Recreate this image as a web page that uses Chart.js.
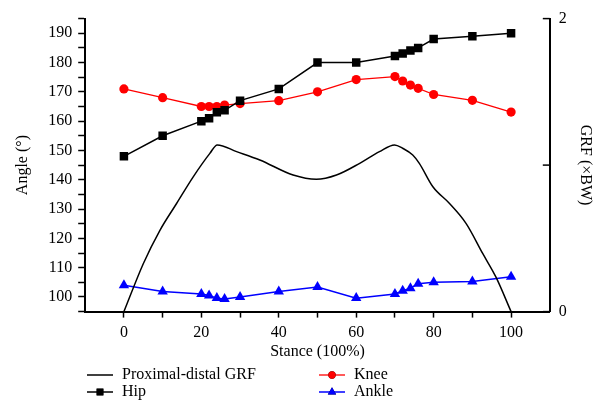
<!DOCTYPE html>
<html>
<head>
<meta charset="utf-8">
<script src="https://cdn.jsdelivr.net/npm/chart.js@4.4.1/dist/chart.umd.min.js"></script>
<style>
  html, body { margin: 0; padding: 0; background: #fff; }
  #wrap { width: 611px; height: 414px; }
</style>
</head>
<body>
<div id="wrap"><canvas id="gait-chart"></canvas></div>
<script>
// joint angles over stance (%)
var stance = [0, 10, 20, 22, 24, 26, 30, 40, 50, 60, 70, 72, 74, 76, 80, 90, 100];
var hip    = [148, 155, 160, 161, 163, 163.7, 167, 171, 180, 180, 182.2, 183.1, 184.1, 185, 188, 189, 190];
var knee   = [171, 168, 165, 165, 165, 165.5, 166, 167, 170, 174.2, 175.2, 173.7, 172.3, 171.2, 169.1, 167.1, 163.1];
var ankle  = [104, 101.9, 101, 100.5, 99.6, 99.3, 100, 101.9, 103.4, 99.6, 101, 102.1, 103, 104.5, 105, 105.3, 106.9];

// proximal-distal GRF (xBW)
var grfX = [0, 5, 9.3, 13.6, 17.9, 22.2, 24.1, 29.1, 35.1, 43.7, 49.7, 54.9, 60.9, 66, 69.9, 72, 74.6, 76.3, 79.8, 84.1, 88.4, 92.7, 96.1, 100];
var grfY = [0, 0.327, 0.555, 0.738, 0.92, 1.08, 1.138, 1.092, 1.035, 0.932, 0.903, 0.932, 1.012, 1.092, 1.138, 1.115, 1.069, 1.012, 0.852, 0.738, 0.601, 0.395, 0.235, 0];

var serif = "'Liberation Serif', 'DejaVu Serif', serif";

function pts(xs, ys) {
  return xs.map(function (x, i) { return { x: x, y: ys[i] }; });
}

// right axis ticks point inward, legend in two columns
var extras = {
  id: 'extras',
  afterDraw: function (chart) {
    var ctx = chart.ctx;
    var y1 = chart.scales.y1;
    ctx.save();
    ctx.strokeStyle = '#000';
    ctx.lineWidth = 1.5;
    [0, 1, 2].forEach(function (v) {
      var py = y1.getPixelForValue(v);
      ctx.beginPath();
      ctx.moveTo(y1.left, py);
      ctx.lineTo(y1.left - 7, py);
      ctx.stroke();
    });

    // legend
    var slots = [
      { ds: 0, x: 87, y: 375 },
      { ds: 1, x: 87, y: 392 },
      { ds: 2, x: 319, y: 375 },
      { ds: 3, x: 319, y: 392 }
    ];
    ctx.font = '16px ' + serif;
    ctx.textBaseline = 'middle';
    ctx.textAlign = 'left';
    slots.forEach(function (s) {
      var d = chart.data.datasets[s.ds];
      ctx.strokeStyle = d.borderColor;
      ctx.lineWidth = d.borderWidth;
      ctx.beginPath();
      ctx.moveTo(s.x, s.y);
      ctx.lineTo(s.x + 26, s.y);
      ctx.stroke();
      if (d.pointRadius > 0) {
        Chart.helpers.drawPoint(ctx, {
          pointStyle: d.pointStyle,
          radius: d.pointRadius * 0.8,
          rotation: 0,
          borderWidth: 0
        }, s.x + 13, s.y);
        ctx.fillStyle = d.pointBackgroundColor;
        ctx.fill();
      }
      ctx.fillStyle = '#000';
      ctx.fillText(d.label, s.x + 35, s.y);
    });
    ctx.restore();
  }
};

var ctx = document.getElementById('gait-chart').getContext('2d');
var chart = new Chart(ctx, {
  type: 'line',
  data: {
    datasets: [
      {
        label: 'Proximal-distal GRF',
        data: pts(grfX, grfY),
        yAxisID: 'y1',
        borderColor: '#000',
        borderWidth: 1.5,
        pointRadius: 0,
        pointBackgroundColor: '#000',
        cubicInterpolationMode: 'monotone'
      },
      {
        label: 'Hip',
        data: pts(stance, hip),
        yAxisID: 'y',
        borderColor: '#000',
        borderWidth: 1.5,
        pointStyle: 'rect',
        pointRadius: 6,
        pointBorderWidth: 0,
        pointBackgroundColor: '#000'
      },
      {
        label: 'Knee',
        data: pts(stance, knee),
        yAxisID: 'y',
        borderColor: '#ff0000',
        borderWidth: 1.3,
        pointStyle: 'circle',
        pointRadius: 4.6,
        pointBorderWidth: 0,
        pointBackgroundColor: '#ff0000'
      },
      {
        label: 'Ankle',
        data: pts(stance, ankle),
        yAxisID: 'y',
        borderColor: '#0000ff',
        borderWidth: 1.5,
        pointStyle: 'triangle',
        pointRadius: 6,
        pointBorderWidth: 0,
        pointBackgroundColor: '#0000ff'
      }
    ]
  },
  options: {
    responsive: true,
    maintainAspectRatio: false,
    animation: false,
    layout: { padding: { left: 13, right: 6, top: 10, bottom: 53 } },
    plugins: {
      legend: { display: false },
      tooltip: { enabled: false }
    },
    scales: {
      x: {
        type: 'linear',
        min: -10,
        max: 110,
        border: { color: '#000', width: 2 },
        grid: {
          drawOnChartArea: false,
          tickLength: 6,
          tickWidth: 1.5,
          tickColor: function (c) {
            return (c.tick && (c.tick.value < 0 || c.tick.value > 100)) ? 'rgba(0,0,0,0)' : '#000';
          }
        },
        ticks: {
          stepSize: 10,
          autoSkip: false,
          maxRotation: 0,
          color: '#000',
          padding: 6,
          font: { family: serif, size: 16 },
          callback: function (v) { return (v >= 0 && v <= 100 && v % 20 === 0) ? v : ''; }
        },
        title: {
          display: true,
          text: 'Stance (100%)',
          color: '#000',
          padding: { top: -7, bottom: 0 },
          font: { family: serif, size: 16 }
        }
      },
      y: {
        position: 'left',
        min: 95,
        max: 195,
        border: { color: '#000', width: 2 },
        grid: { drawOnChartArea: false, tickLength: 7, tickWidth: 1.5, tickColor: '#000' },
        ticks: {
          stepSize: 5,
          autoSkip: false,
          color: '#000',
          padding: 6,
          font: { family: serif, size: 16 },
          callback: function (v) { return (v % 10 === 0 && v < 195) ? v : ''; }
        },
        title: {
          display: true,
          text: 'Angle (°)',
          color: '#000',
          padding: { top: 0, bottom: 10 },
          font: { family: serif, size: 16 }
        }
      },
      y1: {
        position: 'right',
        min: 0,
        max: 2,
        border: { color: '#000', width: 2 },
        grid: { drawOnChartArea: false, drawTicks: false },
        ticks: {
          stepSize: 1,
          autoSkip: false,
          color: '#000',
          padding: 9,
          font: { family: serif, size: 16 },
          callback: function (v) { return v === 1 ? '' : v; }
        },
        title: {
          display: true,
          text: 'GRF (×BW)',
          color: '#000',
          padding: { top: 10, bottom: 0 },
          font: { family: serif, size: 16 }
        }
      }
    }
  },
  plugins: [extras]
});
</script>
</body>
</html>
